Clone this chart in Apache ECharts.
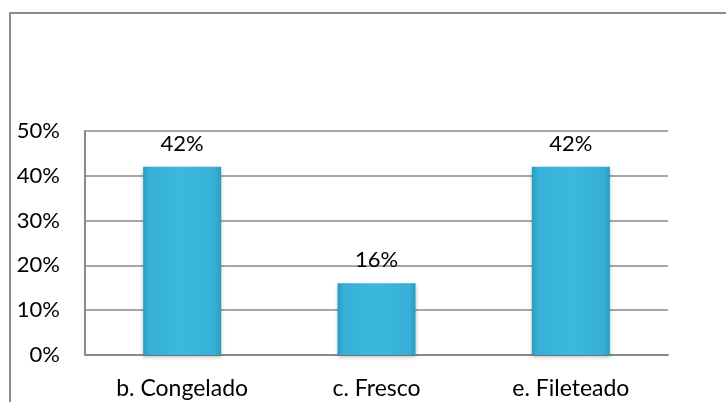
<!DOCTYPE html>
<html>
<head>
<meta charset="utf-8">
<script src="https://cdn.jsdelivr.net/npm/echarts@6/dist/echarts.min.js"></script>
<style>
html,body{margin:0;padding:0;background:#fff;}
#chart{width:726px;height:402px;}
</style>
</head>
<body>
<div id="chart"></div>
<script>
// Product presentation shares
const categories = ['b. Congelado', 'c. Fresco', 'e. Fileteado'];
const shares = [42, 16, 42];
const yTicks = [0, 10, 20, 30, 40, 50];

const chart = echarts.init(document.getElementById('chart'), null, {renderer: 'canvas'});
const font = 'Lato, "Open Sans", sans-serif';

const barFill = new echarts.graphic.LinearGradient(0, 0, 1, 0, [
  {offset: 0, color: '#2a9cc0'},
  {offset: 0.08, color: '#36b0d6'},
  {offset: 0.5, color: '#3cb8de'},
  {offset: 0.92, color: '#36b0d6'},
  {offset: 1, color: '#2a9cc0'}
]);

chart.setOption({
  animation: false,
  graphic: [{
    type: 'rect',
    shape: {x: 10, y: 13, width: 740, height: 420},
    style: {fill: 'none', stroke: '#8c8c8c', lineWidth: 2},
    silent: true
  }],
  grid: {left: 85, right: 58, top: 131, bottom: 47},
  xAxis: {
    type: 'category',
    data: categories,
    axisLine: {lineStyle: {color: '#8a8a8a', width: 2}},
    axisTick: {show: false},
    axisLabel: {color: '#000', fontFamily: font, fontSize: 23, margin: 22}
  },
  yAxis: {
    type: 'value',
    min: yTicks[0],
    max: yTicks[yTicks.length - 1],
    interval: 10,
    axisLine: {show: true, lineStyle: {color: '#8a8a8a', width: 2}},
    axisTick: {show: false},
    splitLine: {lineStyle: {color: '#8a8a8a', width: 1.5}},
    axisLabel: {
      color: '#000', fontFamily: font, fontSize: 22, margin: 25,
      formatter: v => v + '%'
    }
  },
  series: [{
    type: 'bar',
    data: shares,
    barWidth: 78,
    itemStyle: {
      color: barFill,
      shadowColor: 'rgba(0,0,0,0.25)',
      shadowBlur: 4,
      shadowOffsetY: 2
    },
    label: {
      show: true,
      position: 'top',
      distance: 12,
      color: '#000',
      fontFamily: font,
      fontSize: 22,
      formatter: p => p.value + '%'
    }
  }]
});
</script>
</body>
</html>
